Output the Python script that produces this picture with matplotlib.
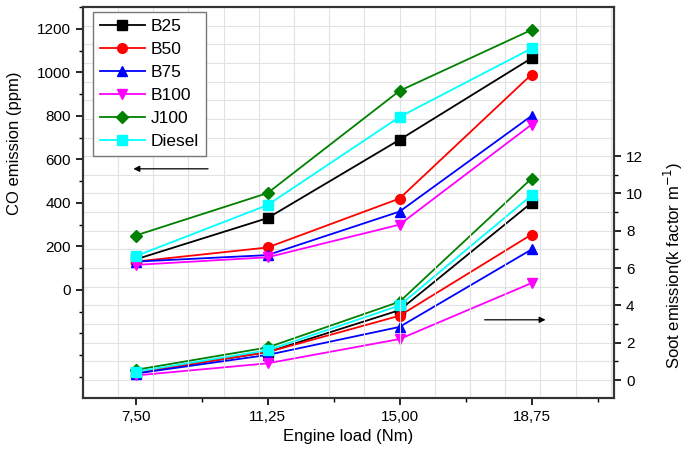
import numpy as np
import matplotlib
matplotlib.use("Agg")
import matplotlib.pyplot as plt
from matplotlib.ticker import FixedLocator

plt.rcParams['font.family'] = ['Liberation Sans', 'DejaVu Sans']

# datos
carga = [7.50, 11.25, 15.00, 18.75]
etiquetas_x = ['7,50', '11,25', '15,00', '18,75']

co_b25 = [140, 330, 690, 1065]
co_b50 = [130, 195, 420, 990]
co_b75 = [130, 160, 360, 800]
co_b100 = [115, 150, 300, 760]
co_j100 = [250, 445, 915, 1195]
co_diesel = [155, 390, 795, 1110]

soot_b25 = [0.40, 1.50, 3.75, 9.5]
soot_b50 = [0.40, 1.50, 3.45, 7.8]
soot_b75 = [0.35, 1.35, 2.85, 7.0]
soot_b100 = [0.25, 0.90, 2.20, 5.2]
soot_j100 = [0.55, 1.75, 4.20, 10.8]
soot_diesel = [0.45, 1.60, 4.00, 9.9]

series = [
    ('B25', co_b25, soot_b25, 'black', 's'),
    ('B50', co_b50, soot_b50, 'red', 'o'),
    ('B75', co_b75, soot_b75, 'blue', '^'),
    ('B100', co_b100, soot_b100, 'magenta', 'v'),
    ('J100', co_j100, soot_j100, 'green', 'D'),
    ('Diesel', co_diesel, soot_diesel, 'cyan', 's'),
]


def graficar(save_path='out.png'):
    fig = plt.figure(figsize=(6.84, 4.57), dpi=100)
    ax = fig.add_axes([0.121, 0.129, 0.777, 0.856])
    ax2 = ax.twinx()

    for nombre, co, soot, color, marcador in series:
        ms = 6 if marcador == 'D' else 7
        ax.plot(carga, co, color=color, marker=marcador, markersize=ms,
                linewidth=1.3, label=nombre, zorder=3)
        ax2.plot(carga, soot, color=color, marker=marcador, markersize=ms,
                 linewidth=1.3, zorder=3)

    ax.set_xlim(6.0, 21.1)
    ax.set_ylim(-497, 1301)
    ax2.set_ylim(-0.96, 20.0)

    ax.set_xticks(carga)
    ax.set_xticklabels(etiquetas_x)
    ax.xaxis.set_minor_locator(FixedLocator([9.375, 13.125, 16.875, 20.625]))
    ax.set_yticks(np.arange(0, 1201, 200))
    ax.yaxis.set_minor_locator(FixedLocator([v for v in range(-400, 1301, 100) if v < 0 or v % 200]))
    ax2.set_yticks(np.arange(0, 13, 2))
    ax2.yaxis.set_minor_locator(FixedLocator([1, 3, 5, 7, 9, 11]))

    # rejilla
    for xv in range(6, 22):
        ax.axvline(xv, color='#e2e2e2', linewidth=0.8, zorder=0)
    for yv in range(0, 21):
        ax2.axhline(yv, color='#e2e2e2', linewidth=0.8, zorder=0)

    for a in (ax, ax2):
        a.tick_params(which='major', direction='out', length=5, width=1.2, labelsize=11)
        a.tick_params(which='minor', direction='out', length=3, width=1.0)
        for s in a.spines.values():
            s.set_linewidth(1.5)
            s.set_color('#333333')

    ax.set_xlabel('Engine load (Nm)', fontsize=12, labelpad=4)
    ax.set_ylabel('CO emission (ppm)', fontsize=12)
    ax.yaxis.set_label_coords(-0.115, 0.652)
    ax2.set_ylabel('Soot emission(k factor m$^{-1}$)', fontsize=12)
    ax2.yaxis.set_label_coords(1.09, 0.34)

    ax.annotate('', xy=(0.09, 0.586), xytext=(0.241, 0.586), xycoords='axes fraction',
                arrowprops=dict(arrowstyle='-|>', color='black', lw=0.9, mutation_scale=9))
    ax.annotate('', xy=(0.876, 0.2), xytext=(0.751, 0.2), xycoords='axes fraction',
                arrowprops=dict(arrowstyle='-|>', color='black', lw=0.9, mutation_scale=9))

    ax.set_zorder(ax2.get_zorder() + 1)
    ax.patch.set_visible(False)

    leg = ax.legend(loc='upper left', bbox_to_anchor=(0.019, 0.987), borderaxespad=0,
                    fontsize=12.5, fancybox=False, framealpha=1, edgecolor='#777777',
                    handlelength=2.6, labelspacing=0.45, borderpad=0.4, handletextpad=0.35)
    leg.get_frame().set_linewidth(1.0)

    fig.savefig(save_path, dpi=100)


if __name__ == "__main__":
    graficar()
